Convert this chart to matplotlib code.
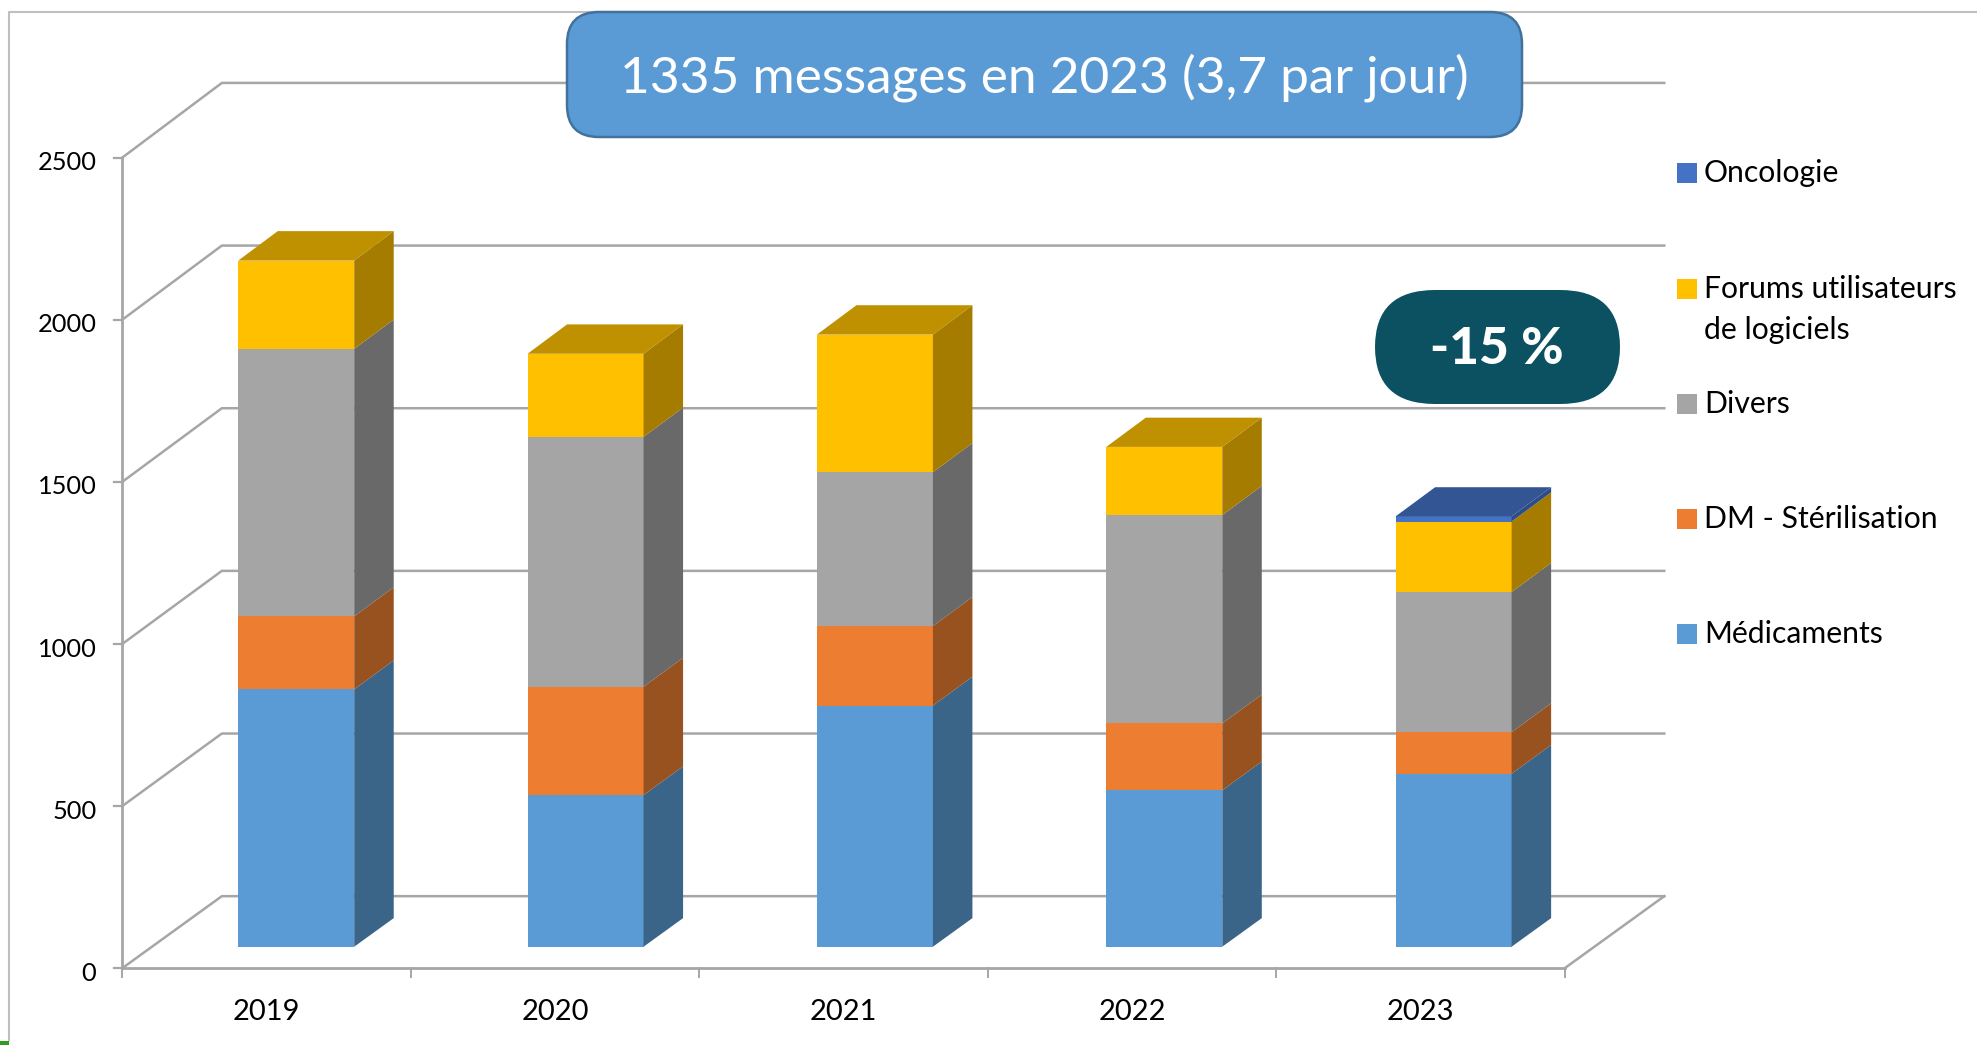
import matplotlib
matplotlib.use("Agg")
import matplotlib.pyplot as plt
from matplotlib.patches import FancyBboxPatch, Rectangle

plt.rcParams["font.family"] = ["Lato", "DejaVu Sans"]

years = ["2019", "2020", "2021", "2022", "2023"]
medicaments = [793, 467, 743, 482, 533]
dm_sterilisation = [225, 334, 245, 206, 128]
divers = [824, 770, 474, 642, 432]
forums = [272, 256, 424, 210, 217]
oncologie = [0, 0, 0, 0, 16]

series = [medicaments, dm_sterilisation, divers, forums, oncologie]
front_colors = ["#5B9BD5", "#ED7D31", "#A5A5A5", "#FFC000", "#4472C4"]
side_colors = ["#3A6488", "#98521F", "#696969", "#A67C00", "#2E4D86"]
top_colors = ["#4A7DAB", "#BE6427", "#848484", "#BF9000", "#335593"]

legend_labels = ["Oncologie", "Forums utilisateurs\nde logiciels", "Divers",
                 "DM - Stérilisation", "Médicaments"]
legend_colors = ["#4472C4", "#FFC000", "#A5A5A5", "#ED7D31", "#5B9BD5"]
legend_y = [173, 289, 404, 519, 634]

yticks = [0, 500, 1000, 1500, 2000, 2500]

W, H = 1977, 1045
grid = "#A6A6A6"

# oblique projection, depth 0 is the front plane and 1 the back wall
DX = 0.345
DY = 222


def proj(x, v, d):
    return x + d * DX, v * (1 + 0.0033 * d) + d * DY


fig = plt.figure(figsize=(W / 100, H / 100), dpi=100)
ax = fig.add_axes([0, 0, 1, 1])
ax.set_xlim(-0.924, 5.929)
ax.set_ylim(-237, 2986)
ax.axis("off")

# walls
for v in yticks:
    x0, y0 = proj(-0.5, v, 0)
    x1, y1 = proj(-0.5, v, 1)
    x2, y2 = proj(4.5, v, 1)
    ax.plot([x0, x1, x2], [y0, y1, y2], color=grid, lw=1.8, zorder=1, solid_joinstyle="miter")
    ax.plot([x0 - 0.03, x0], [y0, y0], color=grid, lw=1.6, zorder=1)
    ax.text(x0 - 0.09, v - 16, str(v), ha="right", va="center", fontsize=18.3, color="black")

xb, yb = proj(4.5, 0, 0)
xr, yr = proj(4.5, 0, 1)
ax.plot([-0.5, -0.5], [0, 2500], color=grid, lw=2, zorder=1)
ax.plot([-0.5, 4.5], [0, 0], color=grid, lw=2, zorder=1)
ax.plot([xb, xr], [yb, yr], color=grid, lw=1.8, zorder=1)
for i in range(6):
    ax.plot([i - 0.5, i - 0.5], [0, -28], color=grid, lw=1.4, zorder=1)
for i, y in enumerate(years):
    ax.text(i, -136, y, ha="center", va="center", fontsize=21, color="black")

# stacked bars
bw = 0.402
d_front = 0.298
d_back = 0.695
step = 1.003
for i in range(len(years)):
    xc = i * step
    bottom = 0
    for k, vals in enumerate(series):
        v = vals[i]
        if v == 0:
            continue
        top = bottom + v
        xl, yl = proj(xc - bw / 2, bottom, d_front)
        xr2, yt = proj(xc + bw / 2, top, d_front)
        ax.bar(xl, yt - yl, bw, bottom=yl, align="edge", color=front_colors[k], zorder=3 + i)
        # side face
        xs = [proj(xc + bw / 2, bottom, d_front)[0], proj(xc + bw / 2, bottom, d_back)[0],
              proj(xc + bw / 2, top, d_back)[0], proj(xc + bw / 2, top, d_front)[0]]
        ys = [proj(xc + bw / 2, bottom, d_front)[1], proj(xc + bw / 2, bottom, d_back)[1],
              proj(xc + bw / 2, top, d_back)[1], proj(xc + bw / 2, top, d_front)[1]]
        ax.fill(xs, ys, color=side_colors[k], lw=0, zorder=3 + i)
        bottom = top
        last = k
    # top face takes the colour of the last series
    pts = [proj(xc - bw / 2, bottom, d_front), proj(xc - bw / 2, bottom, d_back),
           proj(xc + bw / 2, bottom, d_back), proj(xc + bw / 2, bottom, d_front)]
    ax.fill([p[0] for p in pts], [p[1] for p in pts], color=top_colors[last], lw=0, zorder=3 + i)

# everything below is placed in pixels
px = fig.add_axes([0, 0, 1, 1], facecolor="none")
px.set_xlim(0, W)
px.set_ylim(H, 0)
px.axis("off")

px.plot([9, 9, W], [1040, 12, 12], color="#BFBFBF", lw=1.5, zorder=1)
px.add_patch(Rectangle((0, 1041), 9, 4, color="#2E9E1F", lw=0))

px.add_patch(FancyBboxPatch((567 + 32, 12 + 32), 955 - 64, 125 - 64,
                            boxstyle="round,pad=32,rounding_size=32",
                            fc="#5B9BD5", ec="#41719C", lw=1.8, zorder=5))
px.text(1044.5, 78, "1335 messages en 2023 (3,7 par jour)", ha="center", va="center",
        fontsize=37, color="white", zorder=6)

# elliptical corners on the badge
px.add_patch(FancyBboxPatch((1375 + 60, 290 + 57), 245 - 120, 0,
                            boxstyle="round,pad=60,rounding_size=60", mutation_aspect=57 / 60,
                            fc="#0B5162", ec="none", zorder=5))
px.text(1497, 350, "-15 %", ha="center", va="center", fontsize=37, fontweight="black",
        color="white", zorder=6)

for lab, col, y in zip(legend_labels, legend_colors, legend_y):
    px.add_patch(Rectangle((1677, y - 10), 20, 20, color=col, lw=0))
    px.text(1704, y - 14 if "\n" in lab else y, lab, ha="left", va="top" if "\n" in lab else "center",
            fontsize=21.7, color="black", linespacing=1.55)

fig.savefig("out.png", dpi=100)
